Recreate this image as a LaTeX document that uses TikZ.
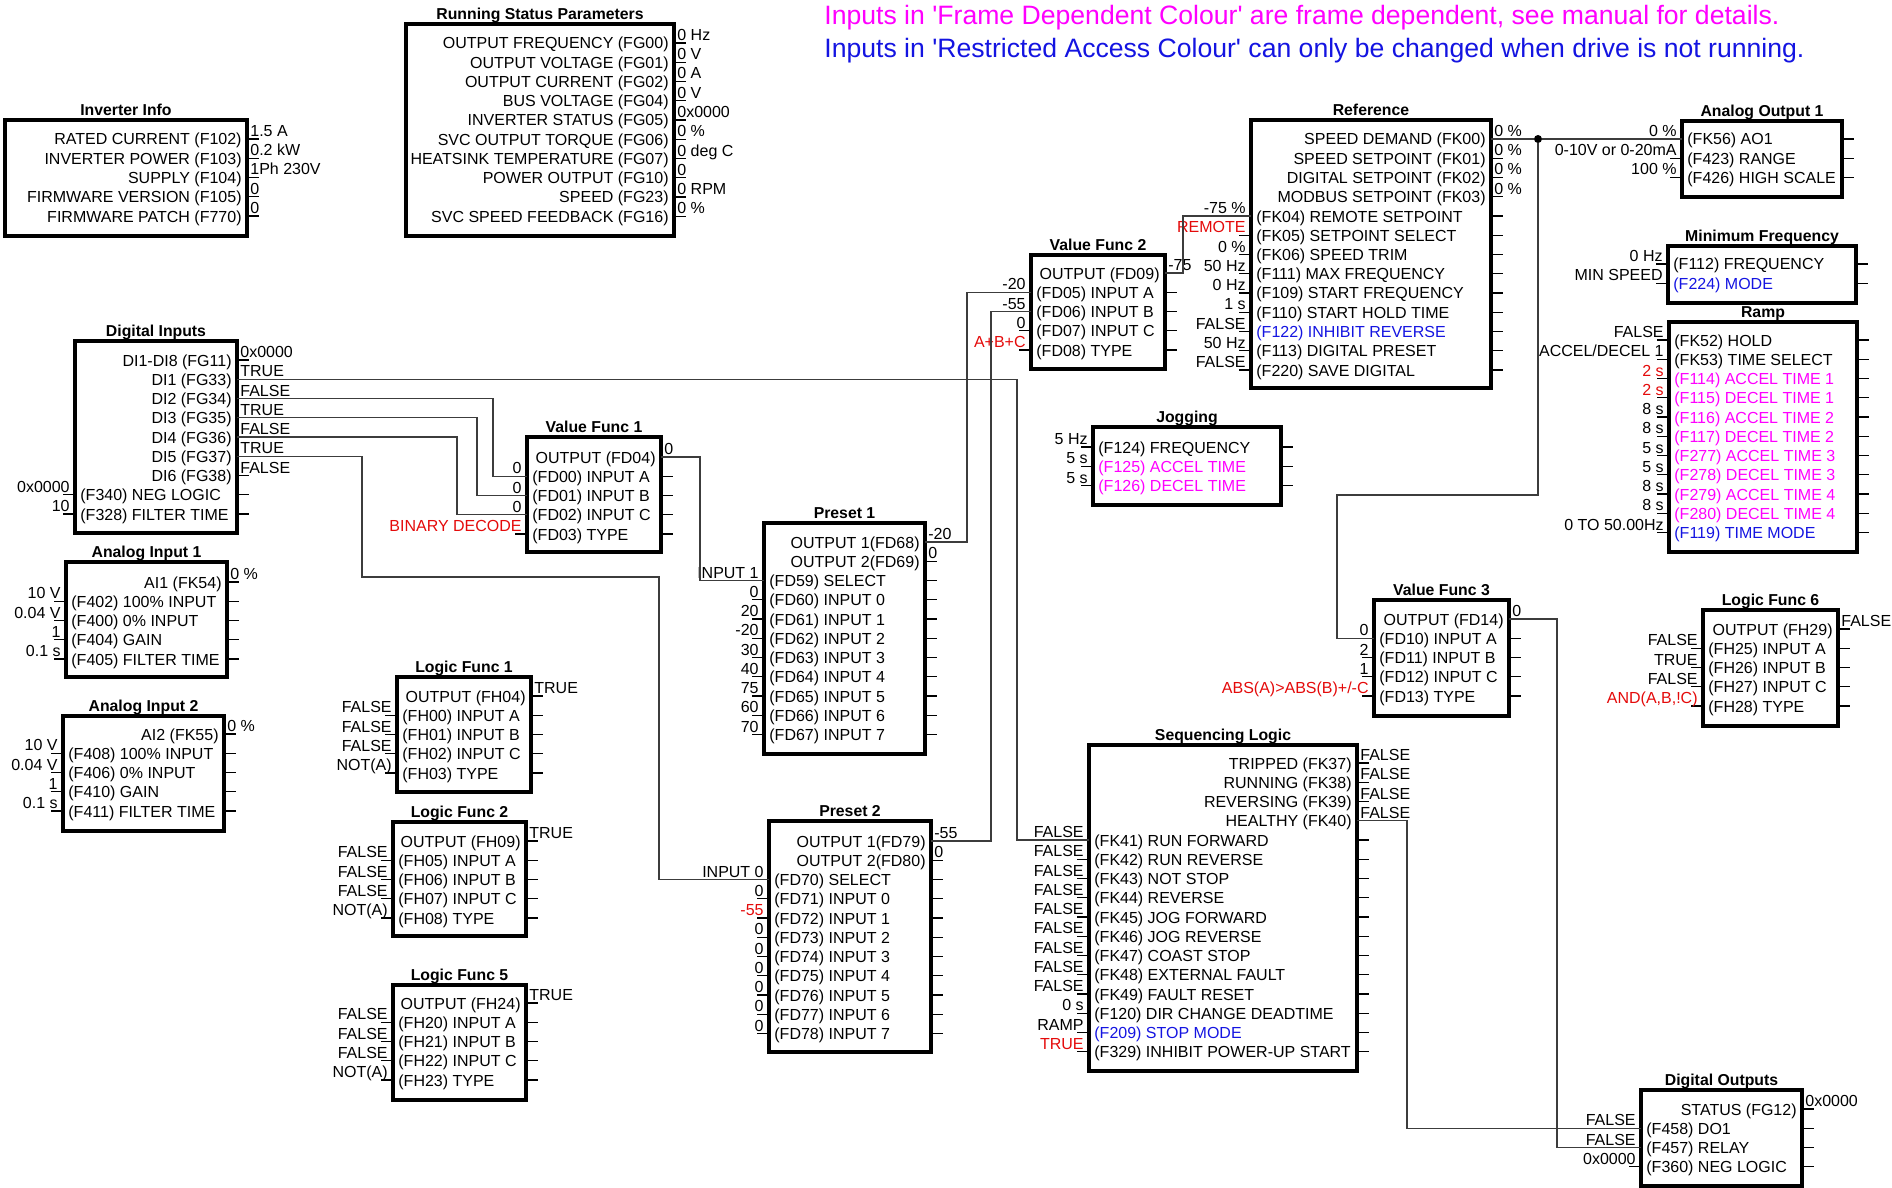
\documentclass[tikz,border=0pt]{standalone}
\usepackage{fontspec}
\setmainfont{Liberation Sans}[Ligatures=TeXOff]
\definecolor{mag}{RGB}{255,0,255}
\definecolor{rblue}{RGB}{20,20,225}
\definecolor{vred}{RGB}{228,10,10}
\definecolor{wirec}{RGB}{60,60,60}
\newcount\rowi
\tikzset{
 blk/.style={draw=black, line width=2pt, rectangle, inner sep=0pt, outer sep=0pt},
 ttl/.style={anchor=base, font=\bfseries\fontsize{7.9}{9}\selectfont, inner sep=0pt},
 rowl/.style={inner sep=0pt, font=\fontsize{8}{9}\selectfont},
 val/.style={inner sep=0pt, font=\fontsize{8}{9}\selectfont},
 stub/.style={draw=black, line width=0.65pt},
 wire/.style={draw=wirec, line width=0.6pt},
 jdot/.style={circle, fill=black, inner sep=0pt, minimum size=4pt},
 hdr/.style={anchor=base west, inner sep=0pt, font=\fontsize{13.3}{16}\selectfont},
}
\newcommand\BlkX[7]{%
  \def\bL{#2}\def\bR{#4}\def\bY{#7}\global\rowi=0\relax
  \node[blk, minimum width={(#4-#2)*0.5pt}, minimum height={(#5-#3)*0.5pt}] (#1) at ({(#2+#4)/2},{(#3+#5)/2}) {};
  \node[ttl] (#1-title) at ({(#2+#4)/2},{#3-4.5}) {#6};
}
\newcommand\OutRow[3]{%
  \pgfmathsetmacro\ry{\bY+19.25*\the\rowi}%
  \node[rowl, anchor=base east] (#1-l) at ({\bR-5},{\ry+6}) {#2};
  \coordinate (#1) at (\bR,\ry);
  \draw[stub] (#1) -- ++(12,0);
  \node[val, anchor=base west] (#1-v) at ({\bR+3},{\ry-2.5}) {#3};
  \global\advance\rowi by 1\relax
}
\newcommand\InRow[3]{%
  \pgfmathsetmacro\ry{\bY+19.25*\the\rowi}%
  \node[rowl, anchor=base west] (#1-l) at ({\bL+5},{\ry+6}) {#2};
  \coordinate (#1) at (\bL,\ry);
  \draw[stub] (#1) -- ++(-12,0);
  \draw[stub] (\bR,\ry) -- ++(12,0);
  \node[val, anchor=base east] (#1-v) at ({\bL-5},{\ry-2.5}) {#3};
  \global\advance\rowi by 1\relax
}
\begin{document}
\begin{tikzpicture}[x=0.5pt,y=-0.5pt]
\useasboundingbox (0,0) rectangle (1892,1188);

\node[hdr, text=mag] (h1) at (824,25) {Inputs in 'Frame Dependent Colour' are frame dependent, see manual for details.};
\node[hdr, text=rblue] (h2) at (824,58) {Inputs in 'Restricted Access Colour' can only be changed when drive is not running.};

% Inverter Info
\BlkX{inv}{5}{120}{247}{236}{Inverter Info}{139}
\OutRow{inv0}{RATED CURRENT (F102)}{1.5 A}
\OutRow{inv1}{INVERTER POWER (F103)}{0.2 kW}
\OutRow{inv2}{SUPPLY (F104)}{1Ph 230V}
\OutRow{inv3}{FIRMWARE VERSION (F105)}{0}
\OutRow{inv4}{FIRMWARE PATCH (F770)}{0}

% Running Status
\BlkX{rsp}{406}{24}{674}{236}{Running Status Parameters}{43}
\OutRow{rsp0}{OUTPUT FREQUENCY (FG00)}{0 Hz}
\OutRow{rsp1}{OUTPUT VOLTAGE (FG01)}{0 V}
\OutRow{rsp2}{OUTPUT CURRENT (FG02)}{0 A}
\OutRow{rsp3}{BUS VOLTAGE (FG04)}{0 V}
\OutRow{rsp4}{INVERTER STATUS (FG05)}{0x0000}
\OutRow{rsp5}{SVC OUTPUT TORQUE (FG06)}{0 \%}
\OutRow{rsp6}{HEATSINK TEMPERATURE (FG07)}{0 deg C}
\OutRow{rsp7}{POWER OUTPUT (FG10)}{0}
\OutRow{rsp8}{SPEED (FG23)}{0 RPM}
\OutRow{rsp9}{SVC SPEED FEEDBACK (FG16)}{0 \%}

% Digital Inputs
\BlkX{di}{75}{341}{237}{533}{Digital Inputs}{360}
\OutRow{di8}{DI1-DI8 (FG11)}{0x0000}
\OutRow{di1}{DI1 (FG33)}{TRUE}
\OutRow{di2}{DI2 (FG34)}{FALSE}
\OutRow{di3}{DI3 (FG35)}{TRUE}
\OutRow{di4}{DI4 (FG36)}{FALSE}
\OutRow{di5}{DI5 (FG37)}{TRUE}
\OutRow{di6}{DI6 (FG38)}{FALSE}
\InRow{dineg}{(F340) NEG LOGIC}{0x0000}
\InRow{difil}{(F328) FILTER TIME}{10}

% Analog Input 1
\BlkX{ai1}{66}{562}{227}{677}{Analog Input 1}{582}
\OutRow{ai1o}{AI1 (FK54)}{0 \%}
\InRow{ai1a}{(F402) 100\% INPUT}{10 V}
\InRow{ai1b}{(F400) 0\% INPUT}{0.04 V}
\InRow{ai1c}{(F404) GAIN}{1}
\InRow{ai1d}{(F405) FILTER TIME}{0.1 s}

% Analog Input 2
\BlkX{ai2}{63}{716}{224}{831}{Analog Input 2}{734}
\OutRow{ai2o}{AI2 (FK55)}{0 \%}
\InRow{ai2a}{(F408) 100\% INPUT}{10 V}
\InRow{ai2b}{(F406) 0\% INPUT}{0.04 V}
\InRow{ai2c}{(F410) GAIN}{1}
\InRow{ai2d}{(F411) FILTER TIME}{0.1 s}

% Logic Func 1
\BlkX{lf1}{397}{677}{531}{792}{Logic Func 1}{696}
\OutRow{lf1o}{OUTPUT (FH04)}{TRUE}
\InRow{lf1a}{(FH00) INPUT A}{FALSE}
\InRow{lf1b}{(FH01) INPUT B}{FALSE}
\InRow{lf1c}{(FH02) INPUT C}{FALSE}
\InRow{lf1t}{(FH03) TYPE}{NOT(A)}

% Logic Func 2
\BlkX{lf2}{393}{822}{526}{936}{Logic Func 2}{841}
\OutRow{lf2o}{OUTPUT (FH09)}{TRUE}
\InRow{lf2a}{(FH05) INPUT A}{FALSE}
\InRow{lf2b}{(FH06) INPUT B}{FALSE}
\InRow{lf2c}{(FH07) INPUT C}{FALSE}
\InRow{lf2t}{(FH08) TYPE}{NOT(A)}

% Logic Func 5
\BlkX{lf5}{393}{985}{526}{1100}{Logic Func 5}{1003}
\OutRow{lf5o}{OUTPUT (FH24)}{TRUE}
\InRow{lf5a}{(FH20) INPUT A}{FALSE}
\InRow{lf5b}{(FH21) INPUT B}{FALSE}
\InRow{lf5c}{(FH22) INPUT C}{FALSE}
\InRow{lf5t}{(FH23) TYPE}{NOT(A)}

% Value Func 1
\BlkX{vf1}{527}{437}{661}{552}{Value Func 1}{457}
\OutRow{vf1o}{OUTPUT (FD04)}{0}
\InRow{vf1a}{(FD00) INPUT A}{0}
\InRow{vf1b}{(FD01) INPUT B}{0}
\InRow{vf1c}{(FD02) INPUT C}{0}
\InRow{vf1t}{(FD03) TYPE}{\color{vred}BINARY DECODE}

% Preset 1
\BlkX{p1}{764}{523}{925}{754}{Preset 1}{542}
\OutRow{p1o1}{OUTPUT 1(FD68)}{-20}
\OutRow{p1o2}{OUTPUT 2(FD69)}{0}
\InRow{p1sel}{(FD59) SELECT}{INPUT 1}
\InRow{p1i0}{(FD60) INPUT 0}{0}
\InRow{p1i1}{(FD61) INPUT 1}{20}
\InRow{p1i2}{(FD62) INPUT 2}{-20}
\InRow{p1i3}{(FD63) INPUT 3}{30}
\InRow{p1i4}{(FD64) INPUT 4}{40}
\InRow{p1i5}{(FD65) INPUT 5}{75}
\InRow{p1i6}{(FD66) INPUT 6}{60}
\InRow{p1i7}{(FD67) INPUT 7}{70}

% Preset 2
\BlkX{p2}{769}{821}{931}{1052}{Preset 2}{841}
\OutRow{p2o1}{OUTPUT 1(FD79)}{-55}
\OutRow{p2o2}{OUTPUT 2(FD80)}{0}
\InRow{p2sel}{(FD70) SELECT}{INPUT 0}
\InRow{p2i0}{(FD71) INPUT 0}{0}
\InRow{p2i1}{(FD72) INPUT 1}{\color{vred}-55}
\InRow{p2i2}{(FD73) INPUT 2}{0}
\InRow{p2i3}{(FD74) INPUT 3}{0}
\InRow{p2i4}{(FD75) INPUT 4}{0}
\InRow{p2i5}{(FD76) INPUT 5}{0}
\InRow{p2i6}{(FD77) INPUT 6}{0}
\InRow{p2i7}{(FD78) INPUT 7}{0}

% Value Func 2
\BlkX{vf2}{1031}{255}{1165}{369}{Value Func 2}{273}
\OutRow{vf2o}{OUTPUT (FD09)}{-75}
\InRow{vf2a}{(FD05) INPUT A}{-20}
\InRow{vf2b}{(FD06) INPUT B}{-55}
\InRow{vf2c}{(FD07) INPUT C}{0}
\InRow{vf2t}{(FD08) TYPE}{\color{vred}A+B+C}

% Reference
\BlkX{ref}{1251}{120}{1491}{388}{Reference}{139}
\OutRow{ref0}{SPEED DEMAND (FK00)}{0 \%}
\OutRow{ref1}{SPEED SETPOINT (FK01)}{0 \%}
\OutRow{ref2}{DIGITAL SETPOINT (FK02)}{0 \%}
\OutRow{ref3}{MODBUS SETPOINT (FK03)}{0 \%}
\InRow{ref4}{(FK04) REMOTE SETPOINT}{-75 \%}
\InRow{ref5}{(FK05) SETPOINT SELECT}{\color{vred}REMOTE}
\InRow{ref6}{(FK06) SPEED TRIM}{0 \%}
\InRow{ref7}{(F111) MAX FREQUENCY}{50 Hz}
\InRow{ref8}{(F109) START FREQUENCY}{0 Hz}
\InRow{ref9}{(F110) START HOLD TIME}{1 s}
\InRow{ref10}{\color{rblue}(F122) INHIBIT REVERSE}{FALSE}
\InRow{ref11}{(F113) DIGITAL PRESET}{50 Hz}
\InRow{ref12}{(F220) SAVE DIGITAL}{FALSE}

% Analog Output 1
\BlkX{ao}{1682}{121}{1842}{197}{Analog Output 1}{139}
\InRow{ao0}{(FK56) AO1}{0 \%}
\InRow{ao1}{(F423) RANGE}{0-10V or 0-20mA}
\InRow{ao2}{(F426) HIGH SCALE}{100 \%}

% Minimum Frequency
\BlkX{mf}{1668}{246}{1856}{303}{Minimum Frequency}{264}
\InRow{mf0}{(F112) FREQUENCY}{0 Hz}
\InRow{mf1}{\color{rblue}(F224) MODE}{MIN SPEED}

% Ramp
\BlkX{rp}{1669}{322}{1857}{552}{Ramp}{340}
\InRow{rp0}{(FK52) HOLD}{FALSE}
\InRow{rp1}{(FK53) TIME SELECT}{ACCEL/DECEL 1}
\InRow{rp2}{\color{mag}(F114) ACCEL TIME 1}{\color{vred}2 s}
\InRow{rp3}{\color{mag}(F115) DECEL TIME 1}{\color{vred}2 s}
\InRow{rp4}{\color{mag}(F116) ACCEL TIME 2}{8 s}
\InRow{rp5}{\color{mag}(F117) DECEL TIME 2}{8 s}
\InRow{rp6}{\color{mag}(F277) ACCEL TIME 3}{5 s}
\InRow{rp7}{\color{mag}(F278) DECEL TIME 3}{5 s}
\InRow{rp8}{\color{mag}(F279) ACCEL TIME 4}{8 s}
\InRow{rp9}{\color{mag}(F280) DECEL TIME 4}{8 s}
\InRow{rp10}{\color{rblue}(F119) TIME MODE}{0 TO 50.00Hz}

% Jogging
\BlkX{jg}{1093}{427}{1281}{505}{Jogging}{447}
\InRow{jg0}{(F124) FREQUENCY}{5 Hz}
\InRow{jg1}{\color{mag}(F125) ACCEL TIME}{5 s}
\InRow{jg2}{\color{mag}(F126) DECEL TIME}{5 s}

% Value Func 3
\BlkX{vf3}{1374}{600}{1509}{716}{Value Func 3}{619}
\OutRow{vf3o}{OUTPUT (FD14)}{0}
\InRow{vf3a}{(FD10) INPUT A}{0}
\InRow{vf3b}{(FD11) INPUT B}{2}
\InRow{vf3c}{(FD12) INPUT C}{1}
\InRow{vf3t}{(FD13) TYPE}{\color{vred}ABS(A)>ABS(B)+/-C}

% Logic Func 6
\BlkX{lf6}{1703}{610}{1838}{726}{Logic Func 6}{629}
\OutRow{lf6o}{OUTPUT (FH29)}{FALSE}
\InRow{lf6a}{(FH25) INPUT A}{FALSE}
\InRow{lf6b}{(FH26) INPUT B}{TRUE}
\InRow{lf6c}{(FH27) INPUT C}{FALSE}
\InRow{lf6t}{(FH28) TYPE}{\color{vred}AND(A,B,!C)}

% Sequencing Logic
\BlkX{sq}{1089}{745}{1357}{1071}{Sequencing Logic}{763}
\OutRow{sq0}{TRIPPED (FK37)}{FALSE}
\OutRow{sq1}{RUNNING (FK38)}{FALSE}
\OutRow{sq2}{REVERSING (FK39)}{FALSE}
\OutRow{sq3}{HEALTHY (FK40)}{FALSE}
\InRow{sq4}{(FK41) RUN FORWARD}{FALSE}
\InRow{sq5}{(FK42) RUN REVERSE}{FALSE}
\InRow{sq6}{(FK43) NOT STOP}{FALSE}
\InRow{sq7}{(FK44) REVERSE}{FALSE}
\InRow{sq8}{(FK45) JOG FORWARD}{FALSE}
\InRow{sq9}{(FK46) JOG REVERSE}{FALSE}
\InRow{sq10}{(FK47) COAST STOP}{FALSE}
\InRow{sq11}{(FK48) EXTERNAL FAULT}{FALSE}
\InRow{sq12}{(FK49) FAULT RESET}{FALSE}
\InRow{sq13}{(F120) DIR CHANGE DEADTIME}{0 s}
\InRow{sq14}{\color{rblue}(F209) STOP MODE}{RAMP}
\InRow{sq15}{(F329) INHIBIT POWER-UP START}{\color{vred}TRUE}

% Digital Outputs
\BlkX{do}{1641}{1090}{1802}{1186}{Digital Outputs}{1109}
\OutRow{do0}{STATUS (FG12)}{0x0000}
\InRow{do1}{(F458) DO1}{FALSE}
\InRow{do2}{(F457) RELAY}{FALSE}
\InRow{do3}{(F360) NEG LOGIC}{0x0000}

% Connectors
\draw[wire] (di1) -| ([xshift=-36pt]sq4) -- (sq4);
\draw[wire] (di2) -| ([xshift=-17pt]vf1a) -- (vf1a);
\draw[wire] (di3) -| ([xshift=-25pt]vf1b) -- (vf1b);
\draw[wire] (di4) -| ([xshift=-35pt]vf1c) -- (vf1c);
\coordinate (k5) at (362,577);
\draw[wire] (di5) -| (k5) -| ([xshift=-55pt]p2sel) -- (p2sel);
\draw[wire] (vf1o) -| ([xshift=-32pt]p1sel) -- (p1sel);
\draw[wire] (p1o1) -| ([xshift=-32pt]vf2a) -- (vf2a);
\draw[wire] (p2o1) -| ([xshift=-20pt]vf2b) -- (vf2b);
\draw[wire] (vf2o) -| ([xshift=-34pt]ref4) -- (ref4);
\node[jdot] (jn) at (1538,139) {};
\draw[wire] (ref0) -- (jn) -- (ao0);
\coordinate (k10) at (1337,495);
\draw[wire] (jn) |- (k10) |- (vf3a);
\draw[wire] (vf3o) -| ([xshift=-42pt]do2) -- (do2);
\draw[wire] (sq3) -| ([xshift=-117pt]do1) -- (do1);
\end{tikzpicture}
\end{document}
